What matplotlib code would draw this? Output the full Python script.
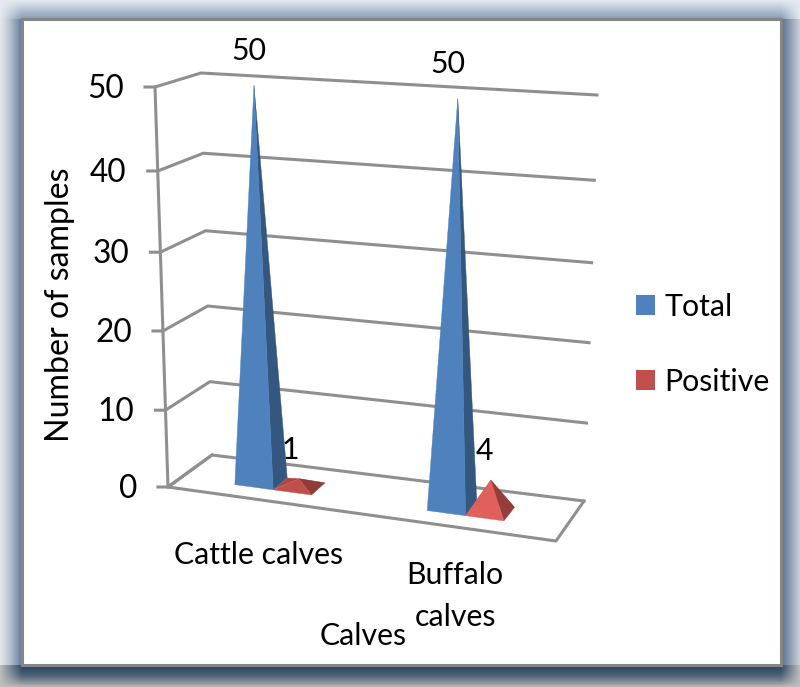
import numpy as np
import matplotlib
matplotlib.use("Agg")
import matplotlib.pyplot as plt
from matplotlib.patches import Patch, Polygon

# ---------- data ----------
categories = ["Cattle calves", "Buffalo\ncalves"]
series_names = ["Total", "Positive"]
total_values = [50, 50]
positive_values = [1, 4]
y_ticks = [0, 10, 20, 30, 40, 50]
y_label = "Number of samples"
x_label = "Calves"

plt.rcParams["font.family"] = ["Lato", "DejaVu Sans"]
FS = 21.8
W, H = 800, 687

fig = plt.figure(figsize=(8, 6.87), dpi=100)
ax = fig.add_axes([0, 0, 1, 1])
ax.set_xlim(0, W)
ax.set_ylim(H, 0)
ax.axis("off")

# ---------- frame background ----------
px_l, px_t, px_r, px_b = 22, 19, 781, 665
yy, xx = np.mgrid[0:H, 0:W]
xx = xx + .5
yy = yy + .5
def lerp(a, b, t):
    return np.array(a)[None, None, :] * (1 - t[..., None]) + np.array(b)[None, None, :] * t[..., None]
ramp_x = np.clip(xx / px_l, 0, 1) * np.clip((W - xx) / (W - px_r), 0, 1)
ramp_y = np.clip(yy / px_t, 0, 1) * np.clip((H - yy) / (H - px_b), 0, 1)
t_top = np.clip(yy / px_t, 0, 1) * ramp_x
t_left = np.clip(xx / px_l, 0, 1) ** 1.3 * ramp_y
t_bot = (1 - np.clip((yy - px_b) / (H - px_b), 0, 1) ** 2) * ramp_x
t_right = (1 - np.clip((xx - px_r) / (W - px_r), 0, 1)) * ramp_y
top = lerp((.90, .92, .94), (.52, .61, .72), t_top)
left = lerp((.90, .91, .92), (.38, .47, .60), t_left)
right = lerp((.80, .82, .85), (.33, .43, .56), t_right)
bot = lerp((.74, .75, .74), (.19, .29, .40), t_bot)
img = np.ones((H, W, 3))
in_y = (yy >= px_t) & (yy <= px_b)
img = np.where((yy < px_t)[..., None], top, img)
img = np.where((yy > px_b)[..., None], bot, img)
img = np.where(((xx < px_l) & in_y)[..., None], left, img)
img = np.where(((xx > px_r) & in_y)[..., None], right, img)
ax.imshow(img, extent=(0, W, H, 0), aspect="auto", zorder=0, interpolation="nearest")
ax.set_xlim(0, W)
ax.set_ylim(H, 0)
ax.add_patch(plt.Rectangle((px_l, px_t), px_r - px_l, px_b - px_t, fc="white", ec="#868686", lw=2.2, zorder=1))

# ---------- 3-D projection (u along categories, d into depth, v value) ----------
floor = {(0, 0): (168, 487), (1, 0): (556, 541), (0, 1): (212, 455), (1, 1): (584, 501)}
ceil = {(0, 0): (155, 87), (1, 0): (570, 117), (0, 1): (201, 73), (1, 1): (597, 95)}
v_frac = [0, .192, .39, .587, .79, 1]

def corner(c, u, d):
    p00, p10, p01, p11 = (np.array(c[k], float) for k in [(0, 0), (1, 0), (0, 1), (1, 1)])
    return (p00 * (1 - u) + p10 * u) * (1 - d) + (p01 * (1 - u) + p11 * u) * d

def proj(u, d, v):
    f = np.interp(v, y_ticks, v_frac)
    return corner(floor, u, d) * (1 - f) + corner(ceil, u, d) * f

# ---------- walls, gridlines, floor ----------
GRID = "#8f8f8f"
LW = 2.2
for v in y_ticks:
    a, b, c = proj(0, 0, v), proj(0, 1, v), proj(1, 1, v)
    ax.plot([a[0] - 10, a[0], b[0], c[0]], [a[1], a[1], b[1], c[1]], color=GRID, lw=LW, zorder=2,
            solid_joinstyle="round")
    ax.text(a[0] - 31, a[1] + 2, str(v), ha="right", va="center", fontsize=FS + 1, color="black", zorder=6)
axis_pts = np.array([proj(0, 0, 0), proj(0, 0, 50)])
ax.plot(axis_pts[:, 0], axis_pts[:, 1], color=GRID, lw=LW, zorder=2)
fl = np.array([proj(0, 1, 0), proj(0, 0, 0), proj(1, 0, 0), proj(1, 1, 0)])
ax.plot(fl[:, 0], fl[:, 1], color=GRID, lw=LW, zorder=2)

# ---------- pyramids ----------
CAT_U = [.24, .742]
OFFS = [-.05, .05]
HW, D0, D1 = .05, .30, .65
BLUE = ("#4f81bd", "#34577f")
RED_BY_CAT = [("#c0504d", "#8e3b39", "#ad4744"), ("#e0605c", "#963c3a", "#963c3a")]

def pyramid(uc, value, front, side, back=None, z=3):
    dm = (D0 + D1) / 2
    apex = proj(uc, dm, value)
    lf, rf = proj(uc - HW, D0, 0), proj(uc + HW, D0, 0)
    rb, lb = proj(uc + HW, D1, 0), proj(uc - HW, D1, 0)
    if back is not None:
        ax.add_patch(Polygon([lf, lb, apex], fc=back, ec="none", zorder=z))
        ax.add_patch(Polygon([lb, rb, apex], fc=back, ec="none", zorder=z))
    ax.add_patch(Polygon([rf, rb, apex], fc=side, ec=side, lw=.3, zorder=z))
    ax.add_patch(Polygon([lf, rf, apex], fc=front, ec=front, lw=.3, zorder=z + .1))
    return apex

label_offsets = {"Total": [(-5, -34), (-10, -34)], "Positive": [(-9, -29), (-6, -29)]}
for i, uc in enumerate(CAT_U):
    a = pyramid(uc + OFFS[0], total_values[i], BLUE[0], BLUE[1], z=3)
    dx, dy = label_offsets["Total"][i]
    ax.text(a[0] + dx, a[1] + dy, str(total_values[i]), ha="center", va="center", fontsize=FS, zorder=6)
    rc = RED_BY_CAT[i]
    a = pyramid(uc + OFFS[1], positive_values[i], rc[0], rc[1], back=rc[2], z=4)
    dx, dy = label_offsets["Positive"][i]
    ax.text(a[0] + dx, a[1] + dy, str(positive_values[i]), ha="center", va="center", fontsize=FS, zorder=6)

# ---------- texts ----------
ax.text(259, 555, categories[0], ha="center", va="center", fontsize=FS, zorder=6)
ax.text(455, 596, categories[1], ha="center", va="center", fontsize=FS, linespacing=1.6, zorder=6)
ax.text(363, 636, x_label, ha="center", va="center", fontsize=FS, zorder=6)
ax.text(60, 305, y_label, ha="center", va="center", rotation=90, fontsize=FS * 1.06, zorder=6)

# ---------- legend ----------
handles = [Patch(fc="#4f81bd", ec="none"), Patch(fc="#c0504d", ec="none")]
leg = ax.legend(handles, series_names, loc="upper left", bbox_to_anchor=(636 / W, 1 - 293 / H),
                bbox_transform=fig.transFigure, frameon=False, fontsize=FS, borderpad=0, borderaxespad=0,
                handlelength=.63, handleheight=.63, handletextpad=.3, labelspacing=1.55)
leg.set_zorder(6)

fig.savefig("out.png", dpi=100)
